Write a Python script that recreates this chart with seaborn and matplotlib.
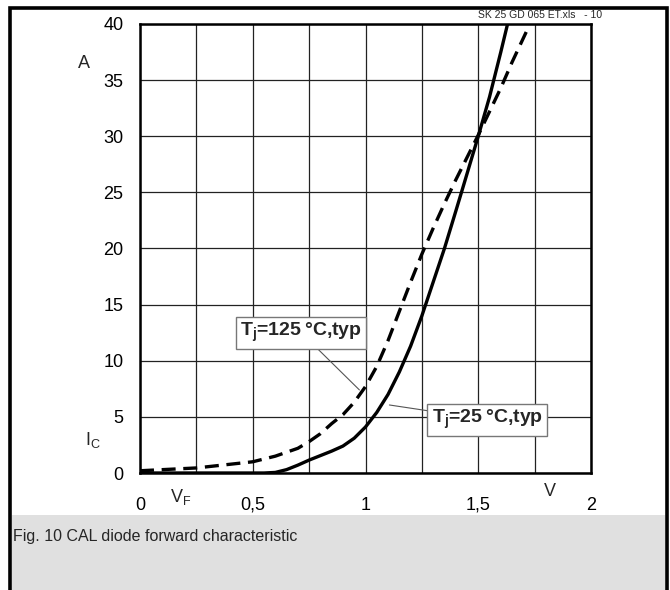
import matplotlib
matplotlib.use("Agg")
import matplotlib.pyplot as plt
from matplotlib.patches import Rectangle
import seaborn as sns
import pandas as pd

# ---- data ----
v_25 = [0.0, 0.55, 0.6, 0.65, 0.7, 0.75, 0.8, 0.85, 0.9, 0.95, 1.0, 1.05, 1.1, 1.15, 1.2, 1.25, 1.3, 1.35, 1.4, 1.43, 1.5, 1.55, 1.6, 1.63]
i_25 = [0.0, 0.0, 0.05, 0.3, 0.7, 1.15, 1.55, 1.95, 2.4, 3.1, 4.1, 5.4, 7.0, 9.0, 11.3, 14.0, 17.0, 20.0, 23.3, 25.3, 30.0, 33.5, 37.5, 40.0]

v_125 = [0.0, 0.25, 0.5, 0.6, 0.7, 0.75, 0.8, 0.85, 0.9, 0.95, 1.0, 1.05, 1.1, 1.15, 1.2, 1.25, 1.3, 1.35, 1.4, 1.45, 1.5, 1.55, 1.6, 1.65, 1.72]
i_125 = [0.2, 0.45, 1.0, 1.5, 2.2, 2.8, 3.5, 4.4, 5.2, 6.3, 7.7, 9.5, 11.8, 14.4, 17.0, 19.5, 21.8, 24.0, 26.1, 28.1, 30.1, 32.2, 34.3, 36.6, 39.6]

x_ticks = [0, 0.5, 1, 1.5, 2]
x_ticklabels = ["0", "0,5", "1", "1,5", "2"]
y_ticks = [0, 5, 10, 15, 20, 25, 30, 35, 40]
y_ticklabels = ["0", "5", "10", "15", "20", "25", "30", "35", "40"]

label_125 = r"$\mathbf{T_j}$=125" + "\u2009°C,typ"
label_25 = r"$\mathbf{T_j}$=25" + "\u2009°C,typ"
caption = "Fig. 10 CAL diode forward characteristic"
file_tag = "SK 25 GD 065 ET.xls   - 10"

df = pd.concat([
    pd.DataFrame({"V": v_25, "I": i_25, "Tj": "25"}),
    pd.DataFrame({"V": v_125, "I": i_125, "Tj": "125"}),
], ignore_index=True)

sns.set_style("white")
plt.rcParams["font.family"] = ["Liberation Sans", "DejaVu Sans"]
plt.rcParams["mathtext.fontset"] = "custom"
plt.rcParams["mathtext.rm"] = "Liberation Sans"
plt.rcParams["mathtext.bf"] = "Liberation Sans:bold"
plt.rcParams["mathtext.it"] = "Liberation Sans:italic"

W, H = 670, 590
fig = plt.figure(figsize=(W / 100, H / 100), dpi=100)

def fx(px):
    return px / W

def fy(py):
    return 1 - py / H

ax = fig.add_axes([fx(140), fy(473), fx(591) - fx(140), fy(24) - fy(473)])

sns.lineplot(data=df, x="V", y="I", hue="Tj", style="Tj",
             palette={"25": "black", "125": "black"},
             dashes={"25": "", "125": (4.2, 2.3)},
             sort=False, estimator=None, errorbar=None,
             linewidth=2.4, legend=False, ax=ax, zorder=3)
for ln in ax.get_lines():
    ln.set_solid_joinstyle("round")
    ln.set_dash_joinstyle("round")

ax.set_xlim(0, 2)
ax.set_ylim(0, 40)
ax.set_xticks(x_ticks)
ax.set_xticklabels(x_ticklabels)
ax.set_yticks(y_ticks)
ax.set_yticklabels(y_ticklabels)
ax.set_xticks([0.25, 0.75, 1.25, 1.75], minor=True)
ax.grid(True, which="both", color="#222222", linewidth=0.9)
ax.tick_params(axis="both", which="both", length=0, labelsize=13, colors="black")
ax.tick_params(axis="x", pad=17)
ax.tick_params(axis="y", pad=12)
ax.set_xlabel("")
ax.set_ylabel("")
for s in ax.spines.values():
    s.set_visible(True)
    s.set_color("black")
    s.set_linewidth(1.8)
ax.set_axisbelow(True)

# axis unit / name labels
fig.text(fx(84), fy(63), "A", fontsize=13, ha="center", va="center")
fig.text(fx(93), fy(440), r"I$_\mathregular{C}$", fontsize=13, ha="center", va="center")
fig.text(fx(181), fy(497), r"V$_\mathregular{F}$", fontsize=13, ha="center", va="center")
fig.text(fx(550), fy(492), "V", fontsize=13, ha="center", va="center")
fig.text(fx(602), fy(15), file_tag, fontsize=7.5, ha="right", va="center")

# annotations
box = dict(boxstyle="square,pad=0.22", facecolor="white", edgecolor="#777777", linewidth=1.0)
arrow = dict(arrowstyle="-", color="#555555", linewidth=0.8, shrinkA=0, shrinkB=0)
ax.annotate(label_125, xy=(0.973, 7.4), xytext=(0.715, 12.5), fontsize=14,
            fontweight="bold", ha="center", va="center", bbox=box, arrowprops=arrow, zorder=5)
ax.annotate(label_25, xy=(1.106, 6.06), xytext=(1.54, 4.75), fontsize=14,
            fontweight="bold", ha="center", va="center", bbox=box, arrowprops=arrow, zorder=5)

# outer frame and caption box
fig.patches.append(Rectangle((fx(10), -0.02), fx(667) - fx(10), fy(8) + 0.02,
                             transform=fig.transFigure, fill=False,
                             edgecolor="black", linewidth=2.6, zorder=0))
fig.patches.append(Rectangle((fx(12), 0), fx(665) - fx(12), fy(515),
                             transform=fig.transFigure, facecolor="#e0e0e0",
                             edgecolor="none", zorder=1))
fig.text(fx(13), fy(536), caption, fontsize=11.5, ha="left", va="center")

fig.savefig("out.png", dpi=100)
